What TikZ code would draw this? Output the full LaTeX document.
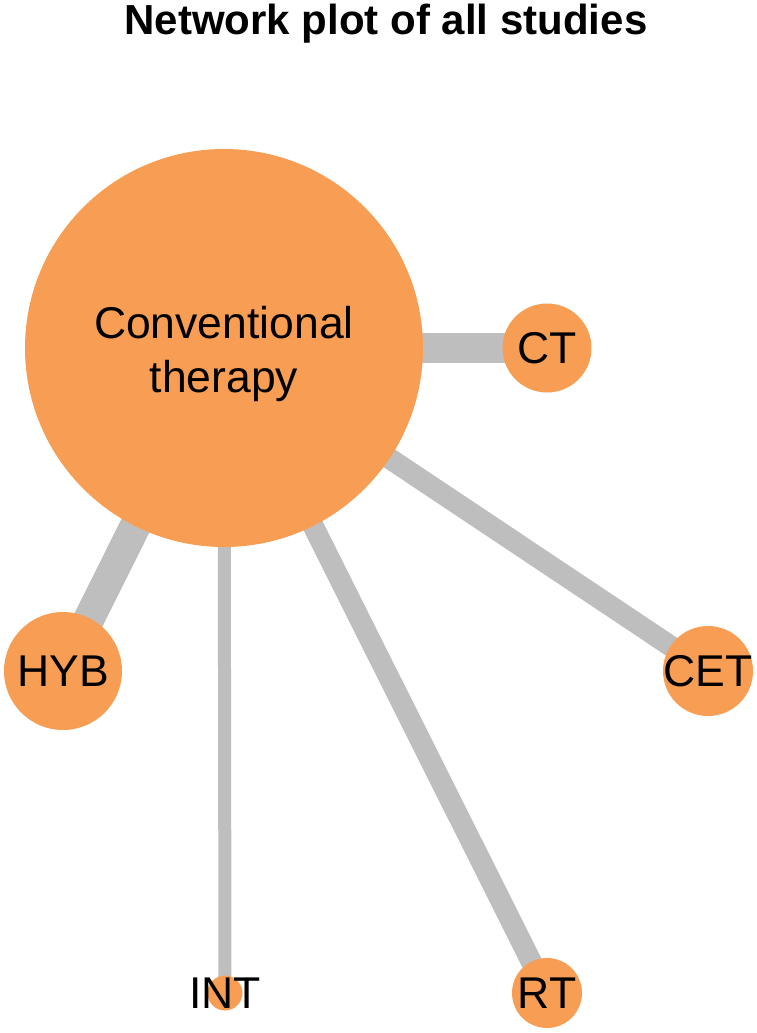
\documentclass[tikz,border=0pt]{standalone}
\usepackage{fontspec}
\setmainfont{Liberation Sans}
\usetikzlibrary{backgrounds}
\definecolor{nodeorange}{RGB}{247,158,84}
\definecolor{edgegray}{RGB}{190,190,190}
\tikzset{
  trt/.style={circle, fill=nodeorange, draw=none, inner sep=0pt, minimum size=#1},
  lbl/.style={font=\fontsize{44.5pt}{54pt}\selectfont, text=black, inner sep=0pt, align=center},
  edge/.style={draw=edgegray, line width=#1, line cap=butt}
}
\begin{document}
\begin{tikzpicture}[x=1pt,y=-1pt]
\useasboundingbox (0,0) rectangle (757,1033);
\node[font=\fontsize{42pt}{50pt}\selectfont\bfseries, anchor=base, inner sep=0pt] (title) at (386,35) {Network plot of all studies};
\node[trt=398pt] (conv) at (224,348) {};
\node[lbl] (convlabel) at (224,353.5) {Conventional\\therapy};
\node[trt=89pt, label={[lbl]center:CT}] (ct) at (547,348) {};
\node[trt=90pt, label={[lbl]center:CET}] (cet) at (708,671) {};
\node[trt=70pt, label={[lbl]center:RT}] (rt) at (547,993) {};
\node[trt=35pt, label={[lbl]center:INT}] (int) at (225,993) {};
\node[trt=118pt, label={[lbl]center:HYB}] (hyb) at (63,671) {};
\begin{scope}[on background layer]
  \draw[edge=30pt] (conv.center) -- (ct.center);
  \draw[edge=21pt] (conv.center) -- (cet.center);
  \draw[edge=21pt] (conv.center) -- (rt.center);
  \draw[edge=13pt] (conv.center) -- (int.center);
  \draw[edge=31pt] (conv.center) -- (hyb.center);
\end{scope}
\end{tikzpicture}
\end{document}
